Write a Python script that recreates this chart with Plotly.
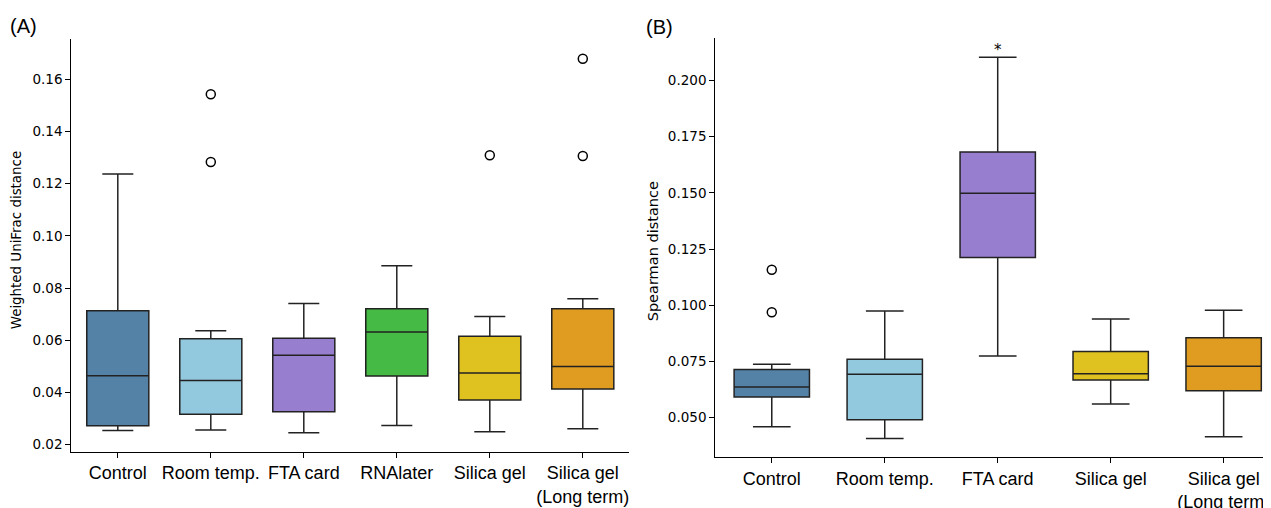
import plotly.graph_objects as go

# ---------------- Panel A: Weighted UniFrac distance ----------------
cats_a = ["Control", "Room temp.", "FTA card", "RNAlater", "Silica gel", "Silica gel<br>(Long term)"]
q1_a = [0.0273, 0.0317, 0.0326, 0.0463, 0.0371, 0.0413]
med_a = [0.0464, 0.0446, 0.0543, 0.0632, 0.0475, 0.0500]
q3_a = [0.0713, 0.0606, 0.0608, 0.0721, 0.0616, 0.0721]
lo_a = [0.0254, 0.0256, 0.0246, 0.0274, 0.0250, 0.0261]
hi_a = [0.1237, 0.0637, 0.0741, 0.0886, 0.0691, 0.0759]
out_cat_a = ["Room temp.", "Room temp.", "Silica gel", "Silica gel<br>(Long term)", "Silica gel<br>(Long term)"]
out_val_a = [0.1543, 0.1283, 0.1309, 0.1679, 0.1306]
colors_a = ["#5481a6", "#93c9de", "#987ece", "#45ba45", "#dfc120", "#df9c20"]
ticks_a = [0.02, 0.04, 0.06, 0.08, 0.10, 0.12, 0.14, 0.16]

# ---------------- Panel B: Spearman distance ----------------
cats_b = ["Control", "Room temp.", "FTA card", "Silica gel", "Silica gel<br>(Long term)"]
q1_b = [0.0592, 0.0491, 0.1212, 0.0668, 0.0620]
med_b = [0.0637, 0.0693, 0.1498, 0.0696, 0.0729]
q3_b = [0.0714, 0.0760, 0.1682, 0.0794, 0.0856]
lo_b = [0.0460, 0.0408, 0.0774, 0.0561, 0.0415]
hi_b = [0.0738, 0.0975, 0.2103, 0.0939, 0.0978]
out_cat_b = ["Control", "Control"]
out_val_b = [0.1158, 0.0969]
colors_b = ["#5481a6", "#93c9de", "#987ece", "#dfc120", "#df9c20"]
ticks_b = [0.050, 0.075, 0.100, 0.125, 0.150, 0.175, 0.200]

W, H = 1271, 508
OFF = 8  # page body margin offset


def px_x(v):
    return (v - OFF) / W


def px_y(v):
    return (H - (v - OFF)) / H


EDGE = "#222222"
fig = go.Figure()


def add_boxes(cats, q1, med, q3, lo, hi, colors, xa, ya):
    for i, c in enumerate(cats):
        fig.add_trace(go.Box(
            x=[c], q1=[q1[i]], median=[med[i]], q3=[q3[i]],
            lowerfence=[lo[i]], upperfence=[hi[i]],
            fillcolor=colors[i], line=dict(color=EDGE, width=1.5),
            width=0.667, whiskerwidth=0.5, boxpoints=False,
            xaxis=xa, yaxis=ya, showlegend=False, hoverinfo="skip"))


add_boxes(cats_a, q1_a, med_a, q3_a, lo_a, hi_a, colors_a, "x", "y")
add_boxes(cats_b, q1_b, med_b, q3_b, lo_b, hi_b, colors_b, "x2", "y2")

fig.add_trace(go.Scatter(x=out_cat_a, y=out_val_a, mode="markers", xaxis="x", yaxis="y",
                         marker=dict(symbol="circle-open", size=9, color="black", line=dict(width=1.5)),
                         showlegend=False))
fig.add_trace(go.Scatter(x=out_cat_b, y=out_val_b, mode="markers", xaxis="x2", yaxis="y2",
                         marker=dict(symbol="circle-open", size=9, color="black", line=dict(width=1.5)),
                         showlegend=False))

xfont = dict(family="Liberation Sans, Arial, sans-serif", size=18, color="black")
yfont = dict(family="DejaVu Sans, sans-serif", size=13.5, color="black")
common_x = dict(type="category", showgrid=False, zeroline=False, showline=True, linecolor="black",
                linewidth=1.2, ticks="outside", ticklen=5, tickwidth=1.2, tickcolor="black",
                tickfont=xfont, fixedrange=True)
common_y = dict(showgrid=False, zeroline=False, showline=True, linecolor="black",
                linewidth=1.2, ticks="outside", ticklen=5, tickwidth=1.2, tickcolor="black",
                tickfont=yfont, fixedrange=True)

fig.update_layout(
    width=W, height=H,
    margin=dict(l=0, r=0, t=0, b=0),
    paper_bgcolor="white", plot_bgcolor="white",
    showlegend=False,
    xaxis=dict(common_x, domain=[px_x(71.3), px_x(629.3)], range=[-0.5, 5.5],
               categoryorder="array", categoryarray=cats_a, anchor="y"),
    yaxis=dict(common_y, domain=[px_y(451.7), px_y(39.3)], range=[0.01732, 0.17534],
               tickvals=ticks_a, tickformat=".2f", anchor="x"),
    xaxis2=dict(common_x, domain=[px_x(715.3), 1.0], range=[-0.5, 4.49],
                categoryorder="array", categoryarray=cats_b, anchor="y2"),
    yaxis2=dict(common_y, domain=[px_y(457.3), px_y(38.3)], range=[0.0324, 0.2187],
                tickvals=ticks_b, tickformat=".3f", anchor="x2"),
)

ann = [
    dict(text="Weighted UniFrac distance", x=px_x(17.3), y=px_y(240), xref="paper", yref="paper",
         textangle=-90, showarrow=False, xanchor="center", yanchor="middle",
         font=dict(family="DejaVu Sans, sans-serif", size=13.4, color="black")),
    dict(text="Spearman distance", x=px_x(653.3), y=px_y(251), xref="paper", yref="paper",
         textangle=-90, showarrow=False, xanchor="center", yanchor="middle",
         font=dict(family="DejaVu Sans, sans-serif", size=14.5, color="black")),
    dict(text="(A)", x=px_x(23), y=px_y(26), xref="paper", yref="paper",
         showarrow=False, xanchor="center", yanchor="middle",
         font=dict(family="Liberation Sans, Arial, sans-serif", size=20, color="black")),
    dict(text="(B)", x=px_x(659), y=px_y(27), xref="paper", yref="paper",
         showarrow=False, xanchor="center", yanchor="middle",
         font=dict(family="Liberation Sans, Arial, sans-serif", size=20, color="black")),
    dict(text="*", x="FTA card", y=hi_b[2], xref="x2", yref="y2", showarrow=False,
         xanchor="center", yanchor="bottom", yshift=-4,
         font=dict(family="DejaVu Sans, sans-serif", size=15, color="black")),
]
fig.update_layout(annotations=ann)

fig.write_html("out.html")
